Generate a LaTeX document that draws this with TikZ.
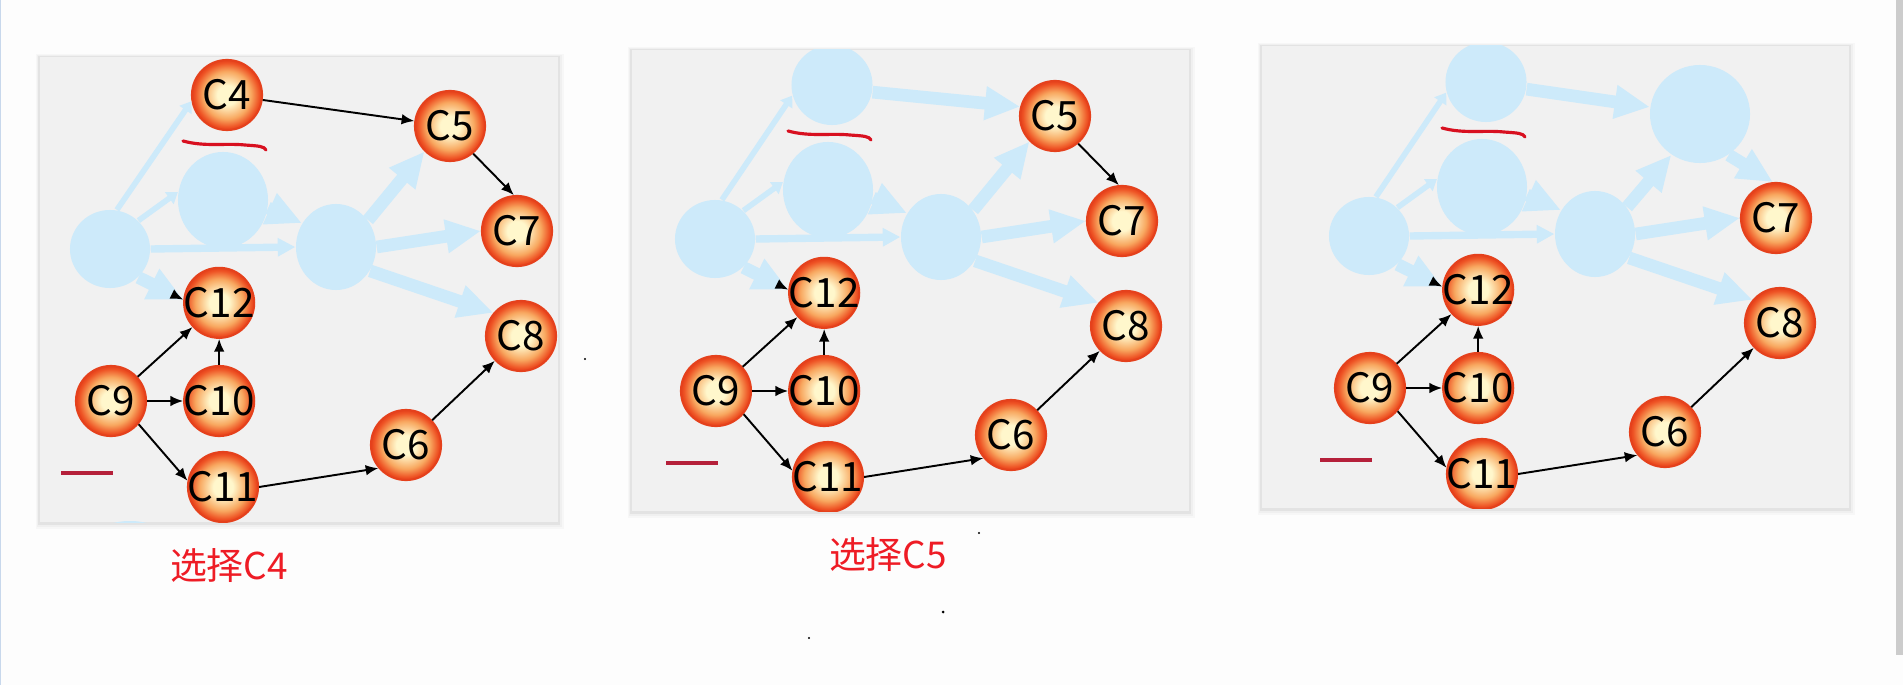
\documentclass[tikz,border=0pt]{standalone}
\usepackage{fontspec}
\newfontfamily\cjk{Noto Sans CJK SC}
\usepackage{tikz}
\usetikzlibrary{arrows.meta,shapes.geometric,positioning}

\definecolor{pagewhite}{HTML}{FDFDFD}
\definecolor{edgeblue}{HTML}{C8D8EC}
\definecolor{ghostblue}{HTML}{CDEAFA}
\definecolor{panelgray}{HTML}{F1F1F1}
\definecolor{ballin}{HTML}{FFF7CC}
\definecolor{ballmid}{HTML}{F8A860}
\definecolor{ballout}{HTML}{EE5224}
\definecolor{ballrim}{HTML}{E5411C}
\definecolor{penred}{HTML}{D81020}
\definecolor{markred}{HTML}{B5203A}
\definecolor{labelred}{HTML}{EE1C25}

\pgfdeclareradialshading{cball}{\pgfpoint{0bp}{0bp}}{color(0bp)=(ballin); color(7bp)=(ballin); color(17bp)=(ballmid); color(23bp)=(ballout); color(25bp)=(ballrim); color(50bp)=(ballrim)}

\tikzset{
  cnode/.style={circle, minimum size=0.7cm, inner sep=0pt, inner xsep=-0.2cm, shading=cball, draw=ballrim, line width=0.6pt, font=\cjk\fontsize{11.5}{13}\selectfont},
  gnode/.style={ellipse, fill=ghostblue, inner sep=0pt, minimum width=0.8cm, minimum height=0.78cm},
  link/.style={-{Latex[length=3.6pt,width=3pt]}, line width=0.55pt, black},
  gthin/.style={draw=ghostblue, line width=1.6pt, -{Triangle[length=3pt,width=4pt]}},
  gmid/.style={draw=ghostblue, line width=2.1pt, -{Triangle[length=5pt,width=5pt]}},
  gwide/.style={draw=ghostblue, line width=3.6pt, -{Triangle[length=10pt,width=9pt]}},
  squiggle/.style={draw=penred, line width=0.9pt, line cap=round},
  penline/.style={draw=markred, line width=1pt},
  caption/.style={text=labelred, font=\cjk\fontsize{10.5}{12}\selectfont}
}

\begin{document}
\begin{tikzpicture}[x=0.01cm, y=-0.01cm]
  \useasboundingbox (0,0) rectangle (1903,685);
  \fill[pagewhite] (0,0) rectangle (1903,685);
  \fill[edgeblue] (0,0) rectangle (1.5,685);
  \fill[black!20] (1896,0) rectangle (1903,655);

  % panel shadows and backgrounds
  \fill[black!3] (36,54) rectangle (564,529);
  \fill[black!6] (37,55) rectangle (562,527);
  \fill[black!11] (38,56) rectangle (560,525);
  \fill[panelgray] (40,57) rectangle (558,522);
  \fill[black!3] (628,47) rectangle (1195,518);
  \fill[black!6] (629,48) rectangle (1193,516);
  \fill[black!11] (630,49) rectangle (1191,514);
  \fill[panelgray] (632,50) rectangle (1189,511);
  \fill[black!3] (1258,43) rectangle (1855,515);
  \fill[black!6] (1259,44) rectangle (1853,513);
  \fill[black!11] (1260,45) rectangle (1851,511);
  \fill[panelgray] (1262,46) rectangle (1849,508);

  % left panel: C4 chosen
  \begin{scope}
    \clip (40,57) rectangle (558,522);
    \node[gnode] (LA) at (110,249) {};
    \node[gnode, minimum width=0.9cm, minimum height=0.96cm] (LB) at (223,200) {};
    \node[gnode, minimum height=0.86cm] (LC) at (336,247) {};
    \fill[ghostblue] (130,533) ellipse (30 and 12);
    \fill[ghostblue] (298,529) ellipse (14 and 6);

    \node[cnode] (L4) at (227,95) {C4};
    \node[cnode] (L5) at (450,126) {C5};
    \node[cnode] (L7) at (517,231) {C7};
    \node[cnode] (L8) at (521,336) {C8};
    \node[cnode] (L9) at (111,401) {C9};
    \node[cnode] (L10) [right=0.36cm of L9] {C10};
    \node[cnode] (L12) [above=0.26cm of L10] {C12};
    \node[cnode] (L11) at (223,487) {C11};
    \node[cnode] (L6) at (406,445) {C6};

    \draw[gthin] (LA.80) -- (L4.190);
    \draw[gthin] (LA.45) -- (LB.170);
    \draw[gmid] (LA.east) -- (LC.west);
    \draw[gwide] (LA.-45) -- (L12.175) coordinate[pos=0.82] (Ltip);
    \draw[gwide] (LB.-10) -- (LC.145);
    \draw[gwide] (LC.40) -- (L5.225);
    \draw[gwide] (LC.east) -- (L7.west);
    \draw[gwide] (LC.-35) -- (L8.140);

    \path[link]
      (Ltip) edge (L12.175)
      (L4) edge (L5)
      (L5.-50) edge (L7.95)
      (L9) edge (L12)
      (L10) edge (L12)
      (L9) edge (L10)
      (L9.-40) edge (L11.170)
      (L11.east) edge (L6.220)
      (L6) edge (L8);

    \draw[squiggle] (183,141) .. controls (205,147) and (225,143) .. (245,145) .. controls (258,146) and (264,146) .. (266,150);
    \draw[penline] (61,473) -- (113,473);
  \end{scope}

  % middle panel: C5 chosen
  \begin{scope}
    \clip (632,50) rectangle (1189,511);
    \begin{scope}[shift={(605,-10)}]
      \node[gnode] (MA) at (110,249) {};
      \node[gnode, minimum width=0.9cm, minimum height=0.96cm] (MB) at (223,200) {};
      \node[gnode, minimum height=0.86cm] (MC) at (336,247) {};
      \node[gnode, minimum width=0.81cm, minimum height=0.8cm] (M4) at (227,95) {};

      \node[cnode] (M5) at (450,126) {C5};
      \node[cnode] (M7) at (517,231) {C7};
      \node[cnode] (M8) at (521,336) {C8};
      \node[cnode] (M9) at (111,401) {C9};
      \node[cnode] (M10) [right=0.36cm of M9] {C10};
      \node[cnode] (M12) [above=0.26cm of M10] {C12};
      \node[cnode] (M11) at (223,487) {C11};
      \node[cnode] (M6) at (406,445) {C6};

      \draw[gthin] (MA.80) -- (M4.195);
      \draw[gthin] (MA.45) -- (MB.170);
      \draw[gmid] (MA.east) -- (MC.west);
      \draw[gwide] (MA.-45) -- (M12.175) coordinate[pos=0.82] (Mtip);
      \draw[gwide] (MB.-10) -- (MC.145);
      \draw[gwide] (M4.-10) -- (M5.165);
      \draw[gwide] (MC.40) -- (M5.225);
      \draw[gwide] (MC.east) -- (M7.west);
      \draw[gwide] (MC.-35) -- (M8.140);

      \path[link]
        (Mtip) edge (M12.175)
        (M5.-50) edge (M7.95)
        (M9) edge (M12)
        (M10) edge (M12)
        (M9) edge (M10)
        (M9.-40) edge (M11.170)
        (M11.east) edge (M6.220)
        (M6) edge (M8);

      \draw[squiggle] (183,141) .. controls (205,147) and (225,143) .. (245,145) .. controls (258,146) and (264,146) .. (266,150);
      \draw[penline] (61,473) -- (113,473);
    \end{scope}
  \end{scope}

  % right panel: after C5
  \begin{scope}
    \clip (1262,46) rectangle (1849,508);
    \begin{scope}[shift={(1259,-13)}]
      \node[gnode] (RA) at (110,249) {};
      \node[gnode, minimum width=0.9cm, minimum height=0.96cm] (RB) at (223,200) {};
      \node[gnode, minimum height=0.86cm] (RC) at (336,247) {};
      \node[gnode, minimum width=0.81cm, minimum height=0.8cm] (R4) at (227,95) {};
      \node[gnode, minimum width=1cm, minimum height=0.98cm] (R5) at (441,127) {};

      \node[cnode] (R7) at (517,231) {C7};
      \node[cnode] (R8) at (521,336) {C8};
      \node[cnode] (R9) at (111,401) {C9};
      \node[cnode] (R10) [right=0.36cm of R9] {C10};
      \node[cnode] (R12) [above=0.26cm of R10] {C12};
      \node[cnode] (R11) at (223,487) {C11};
      \node[cnode] (R6) at (406,445) {C6};

      \draw[gthin] (RA.80) -- (R4.195);
      \draw[gthin] (RA.45) -- (RB.170);
      \draw[gmid] (RA.east) -- (RC.west);
      \draw[gwide] (RA.-45) -- (R12.175) coordinate[pos=0.82] (Rtip);
      \draw[gwide] (RB.-10) -- (RC.145);
      \draw[gwide] (R4.-10) -- (R5.172);
      \draw[gwide] (RC.40) -- (R5.235);
      \draw[gwide] (R5.-55) -- (R7.95);
      \draw[gwide] (RC.east) -- (R7.west);
      \draw[gwide] (RC.-35) -- (R8.140);

      \path[link]
        (Rtip) edge (R12.175)
        (R9) edge (R12)
        (R10) edge (R12)
        (R9) edge (R10)
        (R9.-40) edge (R11.170)
        (R11.east) edge (R6.220)
        (R6) edge (R8);

      \draw[squiggle] (183,141) .. controls (205,147) and (225,143) .. (245,145) .. controls (258,146) and (264,146) .. (266,150);
      \draw[penline] (61,473) -- (113,473);
    \end{scope}
  \end{scope}

  \node[caption] (cap4) at (229,566) {选择C4};
  \node[caption] (cap5) at (888,555) {选择C5};

  % specks
  \fill (585,359) circle (1.2);
  \fill (979,533) circle (1.2);
  \fill (943,612) circle (1.5);
  \fill (809,638) circle (1.2);
\end{tikzpicture}
\end{document}
